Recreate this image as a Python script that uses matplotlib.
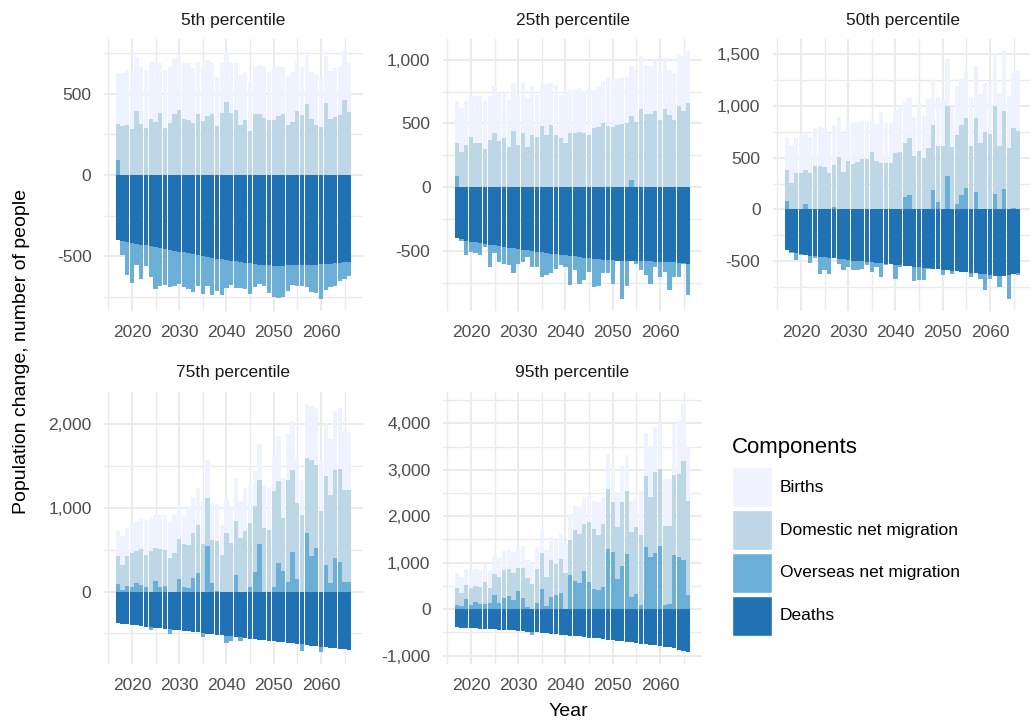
import numpy as np
import matplotlib
matplotlib.use("Agg")
import matplotlib.pyplot as plt
from matplotlib.patches import Rectangle
from matplotlib.ticker import MultipleLocator, FuncFormatter

plt.rcParams['font.family'] = ['Liberation Sans', 'DejaVu Sans']

years = list(range(2017, 2067))
components = ["Births", "Domestic net migration", "Overseas net migration", "Deaths"]
colors = {"Births": "#EFF3FF", "Domestic net migration": "#BDD7E7",
          "Overseas net migration": "#6BAED6", "Deaths": "#2171B5"}

# 5th percentile
p5_births = [311, 326, 341, 351, 334, 351, 358, 351, 372, 306, 356, 347, 345, 341, 341, 347, 337, 320, 324, 347,
             320, 305, 306, 300, 306, 289, 304, 299, 299, 293, 304, 314, 295, 320, 305, 290, 300, 310, 300, 300,
             300, 290, 310, 300, 290, 296, 300, 300, 300, 300]
p5_domestic = [224, 298, 304, 283, 393, 314, 287, 345, 324, 380, 289, 318, 372, 397, 345, 339, 318, 376, 331, 360,
               376, 298, 380, 448, 380, 397, 310, 335, 273, 372, 372, 351, 339, 335, 360, 376, 310, 324, 393, 366,
               434, 345, 304, 293, 442, 345, 355, 366, 459, 386]
p5_overseas = [90, -87, -206, -247, -133, -213, -126, -191, -255, -234, -225, -229, -215, -200, -210, -220, -230, -190, -232, -180,
               -230, -200, -220, -170, -150, -165, -160, -160, -190, -140, -120, -130, -170, -190, -200, -190, -160, -120, -125, -130,
               -135, -170, -175, -210, -160, -140, -140, -110, -100, -90]
p5_deaths = [-399, -405, -410, -416, -421, -427, -432, -437, -443, -448, -453, -459, -464, -470, -475, -480, -486, -491, -497, -502,
             -507, -513, -518, -523, -527, -531, -535, -539, -543, -547, -550, -553, -555, -556, -556, -556, -555, -555, -554, -553,
             -552, -551, -550, -549, -547, -545, -542, -539, -536, -532]

# 25th percentile
p25_births = [322, 340, 341, 332, 366, 361, 375, 340, 367, 374, 366, 367, 372, 380, 388, 380, 380, 332, 322, 400,
              327, 390, 335, 392, 335, 335, 340, 322, 359, 301, 325, 327, 382, 367, 358, 359, 361, 388, 413, 413,
              388, 375, 406, 379, 400, 353, 366, 405, 437, 405]
p25_domestic = [261, 280, 332, 393, 346, 351, 298, 372, 424, 364, 385, 319, 445, 332, 429, 319, 411, 393, 482, 411,
                490, 411, 390, 346, 429, 429, 437, 429, 411, 463, 471, 503, 482, 476, 490, 497, 503, 505, 508, 613,
                573, 573, 594, 529, 613, 568, 529, 634, 594, 660]
p25_overseas = [90, -10, -113, -78, -81, -94, -24, -175, -63, -123, -130, -137, -196, -113, -95, -51, -123, -118, -192, -173,
                -155, -111, -82, -92, -232, -109, -209, -178, -107, -220, -210, -107, -105, -182, -5, -296, -198, 55, -18, -69,
                -108, -178, -41, -120, -79, -222, -116, -113, -5, -249]
p25_deaths = [-400, -408, -418, -427, -432, -437, -442, -448, -455, -461, -467, -473, -479, -484, -489, -494, -500, -505, -510, -515,
              -520, -525, -528, -531, -535, -540, -545, -550, -555, -560, -565, -568, -570, -572, -574, -576, -577, -578, -579, -580,
              -580, -581, -582, -582, -583, -584, -586, -589, -593, -597]

# 50th percentile
p50_births = [323, 365, 332, 349, 355, 348, 365, 381, 378, 387, 384, 380, 370, 387, 392, 393, 374, 374, 307, 358,
              494, 387, 394, 413, 436, 397, 387, 381, 458, 409, 475, 436, 474, 442, 458, 384, 468, 442, 467, 474,
              500, 471, 467, 471, 510, 510, 576, 507, 532, 571]
p50_domestic = [300, 258, 355, 348, 325, 355, 419, 419, 406, 348, 412, 510, 365, 471, 440, 455, 484, 484, 558, 468,
                445, 445, 440, 548, 558, 525, 547, 516, 568, 494, 590, 626, 546, 616, 674, 606, 669, 676, 671, 616,
                710, 639, 752, 729, 850, 613, 750, 590, 769, 761]
p50_overseas = [80, -10, -65, -5, 55, -70, -20, -170, -125, -158, 20, -45, -97, -70, -90, -87, -75, -30, -91, -40,
                -131, -15, 5, -133, -20, 120, 140, -140, -125, -115, -10, 190, 70, -53, 320, -30, 50, 140, 210, -40,
                170, -50, -153, -35, 150, -108, 200, -226, 15, -20]
p50_deaths = [-394, -410, -425, -430, -438, -445, -450, -456, -462, -468, -473, -478, -483, -488, -493, -498, -502, -507, -512, -516,
              -521, -525, -530, -535, -540, -545, -550, -555, -560, -565, -568, -572, -577, -582, -586, -590, -595, -600, -605, -610,
              -615, -622, -628, -635, -640, -640, -638, -635, -625, -612]

# 75th percentile
p75_births = [300, 340, 340, 360, 352, 368, 428, 400, 400, 400, 412, 420, 460, 420, 332, 460, 432, 440, 508, 460,
              448, 440, 368, 420, 440, 520, 440, 512, 460, 420, 420, 500, 500, 440, 540, 480, 540, 580, 540, 420,
              640, 640, 680, 620, 640, 660, 700, 728, 700, 700]
p75_domestic = [330, 300, 350, 400, 388, 432, 372, 480, 390, 452, 435, 400, 460, 478, 508, 520, 540, 580, 572, 580,
                512, 598, 432, 700, 580, 640, 640, 728, 760, 790, 770, 760, 740, 1140, 980, 640, 1230, 990, 910, 920,
                900, 1160, 1000, 960, 1060, 1060, 1060, 1122, 1100, 1090]
p75_overseas = [90, 20, 70, 60, 100, 80, 60, -30, 130, 60, 65, -58, 0, 150, 60, 40, 160, 220, -50, 540,
                100, 10, 0, -90, -60, 200, -40, 0, 60, 230, 570, 0, 0, 60, 340, 240, 110, 470, 150, -80,
                700, 420, 520, -60, 320, 100, 400, 350, 120, 120]
p75_deaths = [-380, -386, -393, -399, -406, -412, -419, -425, -432, -438, -445, -451, -458, -464, -471, -477, -484, -490, -497, -503,
              -510, -516, -523, -529, -536, -542, -549, -555, -562, -568, -575, -581, -588, -594, -601, -607, -614, -620, -627, -633,
              -640, -646, -653, -659, -666, -672, -679, -685, -692, -700]

# 95th percentile
p95_births = [315, 343, 357, 371, 378, 357, 393, 356, 407, 414, 414, 408, 450, 471, 457, 393, 429, 465, 507, 586,
              500, 500, 521, 592, 557, 557, 572, 571, 572, 607, 714, 571, 750, 750, 715, 786, 771, 679, 643, 964,
              929, 1107, 971, 1000, 1021, 1021, 1086, 1143, 1214, 1158]
p95_domestic = [385, 290, 294, 385, 333, 359, 466, 335, 440, 553, 606, 581, 579, 503, 653, 631, 550, 731, 777, 623,
                780, 679, 736, 779, 753, 1083, 1061, 1006, 1291, 1289, 1176, 1356, 1286, 1060, 1114, 1380, 1370, 1387, 1434, 1486,
                1531, 1287, 1750, 1654, 1679, 1659, 1723, 1777, 2133, 2021]
p95_overseas = [80, 60, 220, 80, 160, 120, 120, 130, 310, 140, 230, 290, 200, 390, 240, 40, -75, 140, 430, 70,
                270, 300, 350, 0, 740, 610, 560, 830, 580, 440, 410, 480, 1300, 1240, 650, 920, 1180, 270, 330, 100,
                1340, 1120, 1200, 1360, 100, 120, 1170, 1130, 1060, 300]
p95_deaths = [-393, -398, -404, -409, -414, -420, -425, -431, -436, -442, -447, -453, -458, -464, -473, -482, -491, -500, -510, -519,
              -528, -538, -547, -557, -567, -578, -588, -599, -610, -620, -631, -642, -653, -664, -677, -690, -703, -716, -729, -742,
              -755, -768, -781, -793, -807, -821, -845, -870, -890, -914]

panels = [
    ("5th percentile", p5_births, p5_domestic, p5_overseas, p5_deaths, 500),
    ("25th percentile", p25_births, p25_domestic, p25_overseas, p25_deaths, 500),
    ("50th percentile", p50_births, p50_domestic, p50_overseas, p50_deaths, 500),
    ("75th percentile", p75_births, p75_domestic, p75_overseas, p75_deaths, 1000),
    ("95th percentile", p95_births, p95_domestic, p95_overseas, p95_deaths, 1000),
]

W, H = 1030, 722
fig = plt.figure(figsize=(W / 100, H / 100), dpi=100)
fig.patch.set_facecolor("white")

# panel placement in pixels (left, top)
pw, ph = 259, 272
spots = [(104, 39), (443, 39), (773, 39), (104, 392), (443, 392)]

fmt = FuncFormatter(lambda v, p: f"{v:,.0f}")
x = np.array(years)

for (title, births, dom, ovs, deaths, step), (left, top) in zip(panels, spots):
    ax = fig.add_axes([left / W, 1 - (top + ph) / H, pw / W, ph / H])
    births, dom, ovs, deaths = map(np.array, (births, dom, ovs, deaths))
    ov_pos = np.clip(ovs, 0, None)
    ov_neg = np.clip(ovs, None, 0)

    ax.bar(x, ov_pos, width=0.9, color=colors["Overseas net migration"], linewidth=0)
    ax.bar(x, dom, bottom=ov_pos, width=0.9, color=colors["Domestic net migration"], linewidth=0)
    ax.bar(x, births, bottom=ov_pos + dom, width=0.9, color=colors["Births"], linewidth=0)
    ax.bar(x, deaths, width=0.9, color=colors["Deaths"], linewidth=0)
    ax.bar(x, ov_neg, bottom=deaths, width=0.9, color=colors["Overseas net migration"], linewidth=0)

    ymax = (ov_pos + dom + births).max()
    ymin = (deaths + ov_neg).min()
    pad = (ymax - ymin) * 0.05
    ax.set_ylim(ymin - pad, ymax + pad)
    ax.set_xlim(2014.1, 2068.9)

    ax.xaxis.set_major_locator(MultipleLocator(10))
    ax.xaxis.set_minor_locator(MultipleLocator(5))
    ax.yaxis.set_major_locator(MultipleLocator(step))
    ax.yaxis.set_minor_locator(MultipleLocator(step / 2))
    ax.yaxis.set_major_formatter(fmt)
    ax.set_axisbelow(True)
    ax.grid(which="major", color="#EBEBEB", linewidth=1.4)
    ax.grid(which="minor", color="#EBEBEB", linewidth=1.0)
    for s in ax.spines.values():
        s.set_visible(False)
    ax.tick_params(which="both", length=0, labelsize=12.5, labelcolor="#4D4D4D")
    ax.tick_params(axis="y", pad=9)
    ax.tick_params(axis="x", pad=10)
    ax.set_facecolor("white")

    fig.text((left + pw / 2) / W, 1 - (top - 19) / H, title, ha="center", va="center",
             fontsize=12.5, color="#1A1A1A")

fig.text(22 / W, 1 - 351 / H, "Population change, number of people", rotation=90,
         ha="center", va="center", fontsize=14, color="black")
fig.text(568 / W, 1 - 712 / H, "Year", ha="center", va="center", fontsize=14, color="black")

# legend
fig.text(732 / W, 1 - 448 / H, "Components", ha="left", va="center", fontsize=16, color="black")
for i, name in enumerate(components):
    ktop = 467 + i * 43
    fig.add_artist(Rectangle((732 / W, 1 - (ktop + 40) / H), 40 / W, 40 / H,
                             transform=fig.transFigure, facecolor=colors[name],
                             edgecolor="white", linewidth=1))
    fig.text(780 / W, 1 - (ktop + 20) / H, name, ha="left", va="center", fontsize=12.5, color="black")

fig.savefig("out.png", dpi=100, facecolor="white")
